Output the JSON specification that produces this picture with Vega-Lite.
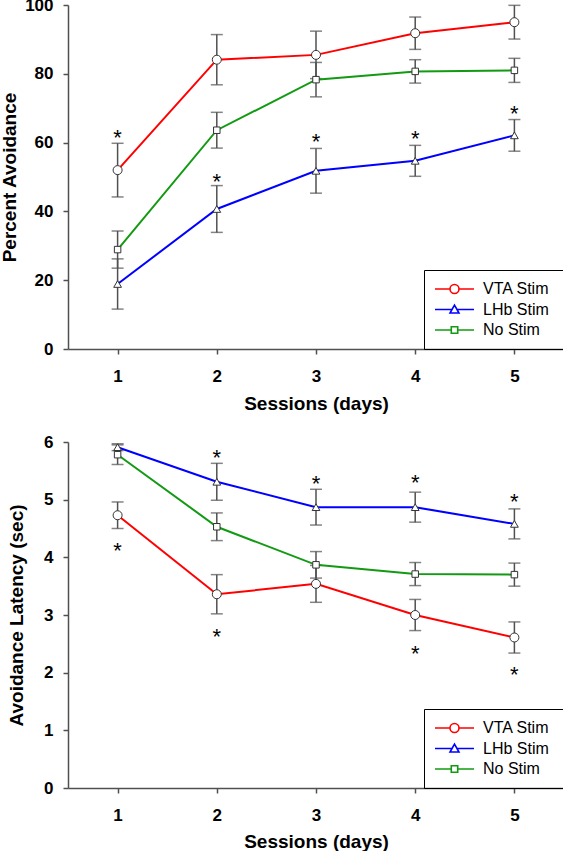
{
  "$schema": "https://vega.github.io/schema/vega-lite/v6.json",
  "background": "white",
  "padding": {"left": 0, "top": -4, "right": 0, "bottom": 0},
  "datasets": {
    "avoid": [
      {"day": 1, "series": "VTA Stim", "mean": 52.0, "sem": 7.8},
      {"day": 2, "series": "VTA Stim", "mean": 84.1, "sem": 7.3},
      {"day": 3, "series": "VTA Stim", "mean": 85.5, "sem": 6.9},
      {"day": 4, "series": "VTA Stim", "mean": 91.8, "sem": 4.7},
      {"day": 5, "series": "VTA Stim", "mean": 95.0, "sem": 4.9},
      {"day": 1, "series": "LHb Stim", "mean": 18.9, "sem": 7.3},
      {"day": 2, "series": "LHb Stim", "mean": 40.7, "sem": 6.8},
      {"day": 3, "series": "LHb Stim", "mean": 51.8, "sem": 6.5},
      {"day": 4, "series": "LHb Stim", "mean": 54.7, "sem": 4.5},
      {"day": 5, "series": "LHb Stim", "mean": 62.1, "sem": 4.6},
      {"day": 1, "series": "No Stim", "mean": 28.9, "sem": 5.4},
      {"day": 2, "series": "No Stim", "mean": 63.6, "sem": 5.2},
      {"day": 3, "series": "No Stim", "mean": 78.3, "sem": 5.0},
      {"day": 4, "series": "No Stim", "mean": 80.7, "sem": 3.4},
      {"day": 5, "series": "No Stim", "mean": 81.0, "sem": 3.5}
    ],
    "avoidStars": [
      {"day": 1, "y": 63.2, "label": "*"},
      {"day": 2, "y": 50.4, "label": "*"},
      {"day": 3, "y": 61.8, "label": "*"},
      {"day": 4, "y": 62.7, "label": "*"},
      {"day": 5, "y": 70.1, "label": "*"}
    ],
    "latency": [
      {"day": 1, "series": "VTA Stim", "mean": 4.73, "sem": 0.23},
      {"day": 2, "series": "VTA Stim", "mean": 3.36, "sem": 0.34},
      {"day": 3, "series": "VTA Stim", "mean": 3.54, "sem": 0.32},
      {"day": 4, "series": "VTA Stim", "mean": 3.00, "sem": 0.27},
      {"day": 5, "series": "VTA Stim", "mean": 2.61, "sem": 0.27},
      {"day": 1, "series": "LHb Stim", "mean": 5.91, "sem": 0.06},
      {"day": 2, "series": "LHb Stim", "mean": 5.31, "sem": 0.32},
      {"day": 3, "series": "LHb Stim", "mean": 4.87, "sem": 0.31},
      {"day": 4, "series": "LHb Stim", "mean": 4.87, "sem": 0.26},
      {"day": 5, "series": "LHb Stim", "mean": 4.58, "sem": 0.26},
      {"day": 1, "series": "No Stim", "mean": 5.78, "sem": 0.17},
      {"day": 2, "series": "No Stim", "mean": 4.53, "sem": 0.24},
      {"day": 3, "series": "No Stim", "mean": 3.87, "sem": 0.23},
      {"day": 4, "series": "No Stim", "mean": 3.71, "sem": 0.20},
      {"day": 5, "series": "No Stim", "mean": 3.70, "sem": 0.20}
    ],
    "latencyStars": [
      {"day": 1, "y": 4.22, "label": "*"},
      {"day": 2, "y": 5.83, "label": "*"},
      {"day": 2, "y": 2.73, "label": "*"},
      {"day": 3, "y": 5.38, "label": "*"},
      {"day": 4, "y": 5.39, "label": "*"},
      {"day": 4, "y": 2.43, "label": "*"},
      {"day": 5, "y": 5.07, "label": "*"},
      {"day": 5, "y": 2.06, "label": "*"}
    ]
  },
  "spacing": 93,
  "bounds": "flush",
  "resolve": {
    "scale": {"color": "independent", "shape": "independent", "x": "independent", "y": "independent"},
    "legend": {"color": "independent", "shape": "independent"}
  },
  "vconcat": [
    {
      "width": 496,
      "height": 344,
      "layer": [
        {
          "data": {"name": "avoid"},
          "mark": {"type": "errorbar", "ticks": {"size": 12}, "color": "#505050", "thickness": 1.5},
          "encoding": {
            "x": {"field": "day", "type": "quantitative", "scale": {"domain": [0.5, 5.5]},
                  "axis": {"values": [1, 2, 3, 4, 5], "format": "d", "title": "Sessions (days)", "labelPadding": 14, "titlePadding": 10}},
            "y": {"field": "mean", "type": "quantitative", "scale": {"domain": [0, 100]},
                  "axis": {"values": [0, 20, 40, 60, 80, 100], "format": "d", "title": "Percent Avoidance", "labelPadding": 10, "titlePadding": 5}},
            "yError": {"field": "sem"}
          }
        },
        {
          "data": {"name": "avoid"},
          "mark": {"type": "line", "strokeWidth": 2},
          "encoding": {
            "x": {"field": "day", "type": "quantitative"},
            "y": {"field": "mean", "type": "quantitative"},
            "color": {"field": "series", "type": "nominal",
                      "scale": {"domain": ["VTA Stim", "LHb Stim", "No Stim"], "range": ["#ff0000", "#0000ff", "#139a13"]},
                      "legend": {"orient": "bottom-right", "offset": 0, "title": "\u00a0", "titleOrient": "right", "titlePadding": 4, "titleFontSize": 16,
                                 "symbolSize": 196, "symbolStrokeWidth": 1.6,
                                 "symbolOffset": 11.5, "labelOffset": 20.5, "labelFontSize": 16, "padding": 11, "rowPadding": 4.5,
                                 "strokeColor": "black", "symbolOpacity": 1, "labelExpr": "datum.label + '\u00a0'",
                                 "encode": {"symbols": {"update": {"fill": {"value": "white"}}}}}}
          }
        },
        {
          "data": {"name": "avoid"},
          "mark": {"type": "point", "filled": false, "opacity": 0},
          "encoding": {
            "x": {"field": "day", "type": "quantitative"},
            "y": {"field": "mean", "type": "quantitative"},
            "color": {"field": "series", "type": "nominal",
                      "scale": {"domain": ["VTA Stim", "LHb Stim", "No Stim"], "range": ["#ff0000", "#0000ff", "#139a13"]},
                      "legend": {"orient": "bottom-right", "offset": 0, "title": "\u00a0", "titleOrient": "right", "titlePadding": 4, "titleFontSize": 16,
                                 "symbolSize": 196, "symbolStrokeWidth": 1.6,
                                 "symbolOffset": 11.5, "labelOffset": 20.5, "labelFontSize": 16, "padding": 11, "rowPadding": 4.5,
                                 "strokeColor": "black", "symbolOpacity": 1, "labelExpr": "datum.label + '\u00a0'",
                                 "encode": {"symbols": {"update": {"fill": {"value": "white"}}}}}},
            "shape": {"field": "series", "type": "nominal",
                      "scale": {"domain": ["VTA Stim", "LHb Stim", "No Stim"],
                                "range": ["M-2.786,0H-0.643M0.643,0A0.643,0.643,0,1,1,-0.643,0A0.643,0.643,0,1,1,0.643,0ZM0.643,0H2.786",
                                          "M-2.786,0H-0.34M0.34,0H2.786M0,-0.62L0.64,0.5L-0.64,0.5Z",
                                          "M-2.786,0H-0.46M0.46,0H2.786M-0.46,-0.46H0.46V0.46H-0.46Z"]},
                      "legend": {"orient": "bottom-right", "offset": 0, "title": "\u00a0", "titleOrient": "right", "titlePadding": 4, "titleFontSize": 16,
                                 "symbolSize": 196, "symbolStrokeWidth": 1.6,
                                 "symbolOffset": 11.5, "labelOffset": 20.5, "labelFontSize": 16, "padding": 11, "rowPadding": 4.5,
                                 "strokeColor": "black", "symbolOpacity": 1, "labelExpr": "datum.label + '\u00a0'",
                                 "encode": {"symbols": {"update": {"fill": {"value": "white"}}}}}}
          }
        },
        {
          "data": {"name": "avoid"},
          "transform": [{"filter": {"field": "series", "equal": "VTA Stim"}}],
          "mark": {"type": "point", "shape": "circle", "size": 81, "filled": false, "fill": "white", "stroke": "#333333", "strokeWidth": 1, "opacity": 1},
          "encoding": {"x": {"field": "day", "type": "quantitative"}, "y": {"field": "mean", "type": "quantitative"}}
        },
        {
          "data": {"name": "avoid"},
          "transform": [{"filter": {"field": "series", "equal": "LHb Stim"}}],
          "mark": {"type": "point", "shape": "triangle-up", "size": 60, "filled": false, "fill": "white", "stroke": "#333333", "strokeWidth": 1, "opacity": 1},
          "encoding": {"x": {"field": "day", "type": "quantitative"}, "y": {"field": "mean", "type": "quantitative"}}
        },
        {
          "data": {"name": "avoid"},
          "transform": [{"filter": {"field": "series", "equal": "No Stim"}}],
          "mark": {"type": "point", "shape": "square", "size": 42, "filled": false, "fill": "white", "stroke": "#333333", "strokeWidth": 1, "opacity": 1},
          "encoding": {"x": {"field": "day", "type": "quantitative"}, "y": {"field": "mean", "type": "quantitative"}}
        },
        {
          "data": {"name": "avoidStars"},
          "mark": {"type": "text", "fontSize": 22, "baseline": "alphabetic", "dy": 13, "color": "black"},
          "encoding": {
            "x": {"field": "day", "type": "quantitative"},
            "y": {"field": "y", "type": "quantitative"},
            "text": {"field": "label"}
          }
        }
      ]
    },
    {
      "width": 496,
      "height": 346,
      "layer": [
        {
          "data": {"name": "latency"},
          "mark": {"type": "errorbar", "ticks": {"size": 12}, "color": "#505050", "thickness": 1.5},
          "encoding": {
            "x": {"field": "day", "type": "quantitative", "scale": {"domain": [0.5, 5.5]},
                  "axis": {"values": [1, 2, 3, 4, 5], "format": "d", "title": "Sessions (days)", "labelPadding": 14, "titlePadding": 9}},
            "y": {"field": "mean", "type": "quantitative", "scale": {"domain": [0, 6]},
                  "axis": {"values": [0, 1, 2, 3, 4, 5, 6], "format": "d", "title": "Avoidance Latency (sec)", "labelPadding": 10, "titlePadding": 17}},
            "yError": {"field": "sem"}
          }
        },
        {
          "data": {"name": "latency"},
          "mark": {"type": "line", "strokeWidth": 2},
          "encoding": {
            "x": {"field": "day", "type": "quantitative"},
            "y": {"field": "mean", "type": "quantitative"},
            "color": {"field": "series", "type": "nominal",
                      "scale": {"domain": ["VTA Stim", "LHb Stim", "No Stim"], "range": ["#ff0000", "#0000ff", "#139a13"]},
                      "legend": {"orient": "bottom-right", "offset": 0, "title": "\u00a0", "titleOrient": "right", "titlePadding": 4, "titleFontSize": 16,
                                 "symbolSize": 196, "symbolStrokeWidth": 1.6,
                                 "symbolOffset": 11.5, "labelOffset": 20.5, "labelFontSize": 16, "padding": 11, "rowPadding": 4.5,
                                 "strokeColor": "black", "symbolOpacity": 1, "labelExpr": "datum.label + '\u00a0'",
                                 "encode": {"symbols": {"update": {"fill": {"value": "white"}}}}}}
          }
        },
        {
          "data": {"name": "latency"},
          "mark": {"type": "point", "filled": false, "opacity": 0},
          "encoding": {
            "x": {"field": "day", "type": "quantitative"},
            "y": {"field": "mean", "type": "quantitative"},
            "color": {"field": "series", "type": "nominal",
                      "scale": {"domain": ["VTA Stim", "LHb Stim", "No Stim"], "range": ["#ff0000", "#0000ff", "#139a13"]},
                      "legend": {"orient": "bottom-right", "offset": 0, "title": "\u00a0", "titleOrient": "right", "titlePadding": 4, "titleFontSize": 16,
                                 "symbolSize": 196, "symbolStrokeWidth": 1.6,
                                 "symbolOffset": 11.5, "labelOffset": 20.5, "labelFontSize": 16, "padding": 11, "rowPadding": 4.5,
                                 "strokeColor": "black", "symbolOpacity": 1, "labelExpr": "datum.label + '\u00a0'",
                                 "encode": {"symbols": {"update": {"fill": {"value": "white"}}}}}},
            "shape": {"field": "series", "type": "nominal",
                      "scale": {"domain": ["VTA Stim", "LHb Stim", "No Stim"],
                                "range": ["M-2.786,0H-0.643M0.643,0A0.643,0.643,0,1,1,-0.643,0A0.643,0.643,0,1,1,0.643,0ZM0.643,0H2.786",
                                          "M-2.786,0H-0.34M0.34,0H2.786M0,-0.62L0.64,0.5L-0.64,0.5Z",
                                          "M-2.786,0H-0.46M0.46,0H2.786M-0.46,-0.46H0.46V0.46H-0.46Z"]},
                      "legend": {"orient": "bottom-right", "offset": 0, "title": "\u00a0", "titleOrient": "right", "titlePadding": 4, "titleFontSize": 16,
                                 "symbolSize": 196, "symbolStrokeWidth": 1.6,
                                 "symbolOffset": 11.5, "labelOffset": 20.5, "labelFontSize": 16, "padding": 11, "rowPadding": 4.5,
                                 "strokeColor": "black", "symbolOpacity": 1, "labelExpr": "datum.label + '\u00a0'",
                                 "encode": {"symbols": {"update": {"fill": {"value": "white"}}}}}}
          }
        },
        {
          "data": {"name": "latency"},
          "transform": [{"filter": {"field": "series", "equal": "VTA Stim"}}],
          "mark": {"type": "point", "shape": "circle", "size": 81, "filled": false, "fill": "white", "stroke": "#333333", "strokeWidth": 1, "opacity": 1},
          "encoding": {"x": {"field": "day", "type": "quantitative"}, "y": {"field": "mean", "type": "quantitative"}}
        },
        {
          "data": {"name": "latency"},
          "transform": [{"filter": {"field": "series", "equal": "LHb Stim"}}],
          "mark": {"type": "point", "shape": "triangle-up", "size": 60, "filled": false, "fill": "white", "stroke": "#333333", "strokeWidth": 1, "opacity": 1},
          "encoding": {"x": {"field": "day", "type": "quantitative"}, "y": {"field": "mean", "type": "quantitative"}}
        },
        {
          "data": {"name": "latency"},
          "transform": [{"filter": {"field": "series", "equal": "No Stim"}}],
          "mark": {"type": "point", "shape": "square", "size": 42, "filled": false, "fill": "white", "stroke": "#333333", "strokeWidth": 1, "opacity": 1},
          "encoding": {"x": {"field": "day", "type": "quantitative"}, "y": {"field": "mean", "type": "quantitative"}}
        },
        {
          "data": {"name": "latencyStars"},
          "mark": {"type": "text", "fontSize": 22, "baseline": "alphabetic", "dy": 13, "color": "black"},
          "encoding": {
            "x": {"field": "day", "type": "quantitative"},
            "y": {"field": "y", "type": "quantitative"},
            "text": {"field": "label"}
          }
        }
      ]
    }
  ],
  "config": {
    "font": "Liberation Sans",
    "view": {"stroke": null},
    "axis": {
      "grid": false,
      "domainColor": "#505050",
      "domainWidth": 1.5,
      "tickColor": "#505050",
      "tickWidth": 1.5,
      "tickSize": 5,
      "labelFont": "Liberation Sans",
      "labelFontSize": 17,
      "labelFontWeight": "bold",
      "labelColor": "black",
      "titleFont": "Liberation Sans",
      "titleFontSize": 19,
      "titleFontWeight": "bold",
      "titleColor": "black"
    },
    "legend": {
      "labelFont": "Liberation Sans",
      "labelColor": "black",
      "labelFontWeight": "normal"
    }
  }
}
